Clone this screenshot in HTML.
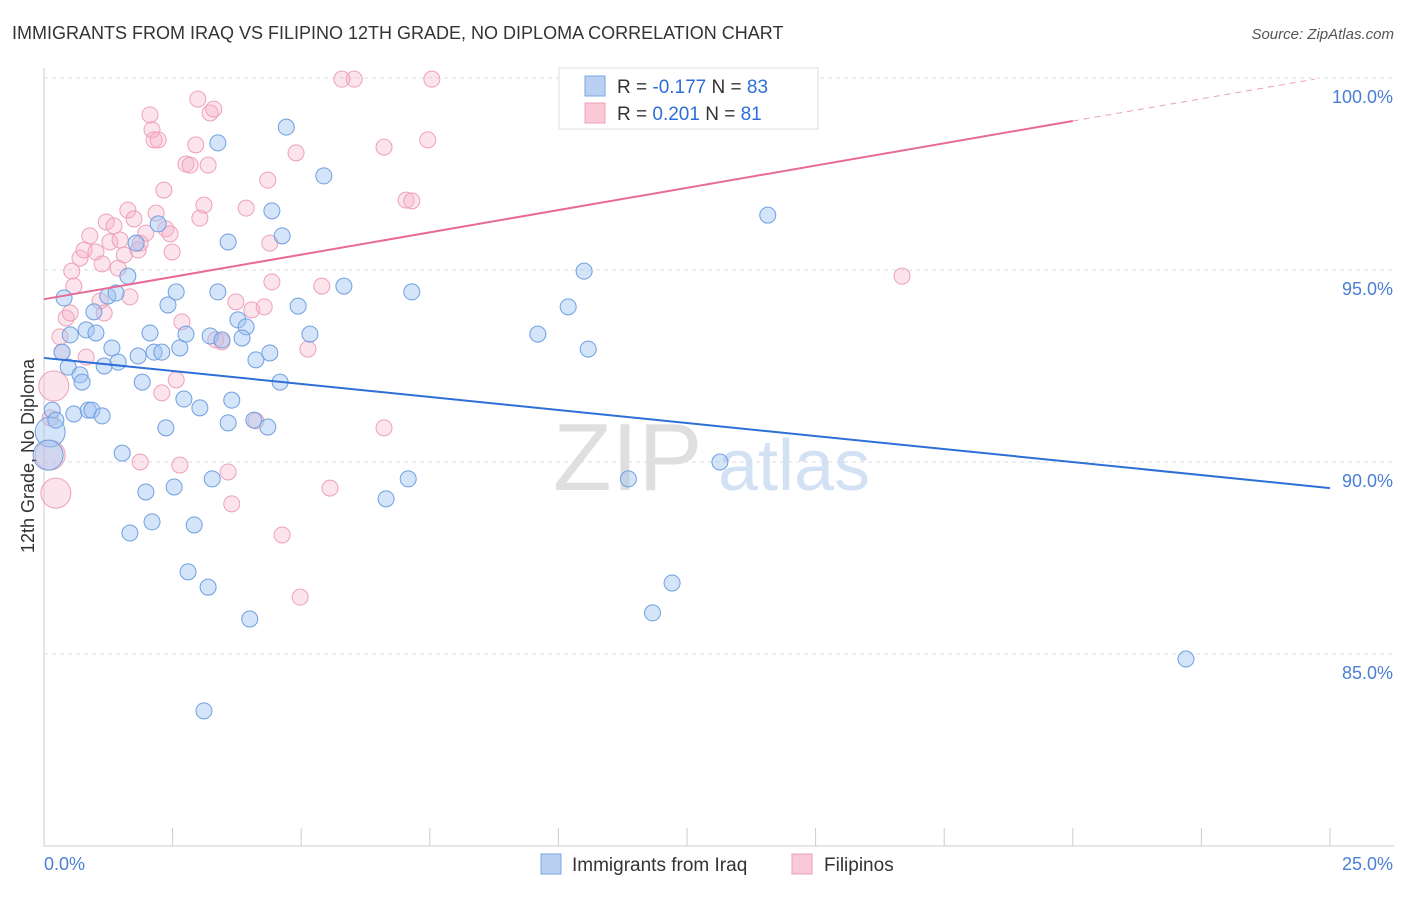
<!DOCTYPE html>
<html><head><meta charset="utf-8"><style>
body{margin:0;background:#fff;font-family:"Liberation Sans",sans-serif}
svg text{font-family:"Liberation Sans",sans-serif}
</style></head><body>
<svg id="chart" width="1406" height="892" viewBox="0 0 1406 892" xmlns="http://www.w3.org/2000/svg">
<text x="12" y="39" font-size="18" fill="#333">IMMIGRANTS FROM IRAQ VS FILIPINO 12TH GRADE, NO DIPLOMA CORRELATION CHART</text>
<text x="1394" y="39" font-size="15" fill="#555" text-anchor="end" font-style="italic">Source: ZipAtlas.com</text>
<g>
<text x="553" y="490" font-size="96" fill="#d8d8d8" font-family="Liberation Serif" opacity="0.8">ZIP</text>
<text x="718" y="490" font-size="72" fill="#c9daf2" opacity="0.8">atlas</text>
</g>
<g id="grid"></g>
<g id="axes"></g>
<g id="points"></g>
<g id="lines"></g>
<g>
<rect x="559" y="68" width="259" height="61" fill="#fff" stroke="#ddd"/>
<rect x="585" y="76" width="20" height="20" fill="#b9d0f3" stroke="#7aa6e3"/>
<text x="617" y="93" font-size="19" fill="#333">R = <tspan fill="#2d6fd6">-0.177</tspan>   N = <tspan fill="#2d6fd6">83</tspan></text>
<rect x="585" y="103" width="20" height="20" fill="#f9c9d7" stroke="#eda0b8"/>
<text x="617" y="120" font-size="19" fill="#333">R =  <tspan fill="#2d6fd6">0.201</tspan>   N =  <tspan fill="#2d6fd6">81</tspan></text>
</g>
<g>
<rect x="541" y="854" width="20" height="20" fill="#b9d0f3" stroke="#7aa6e3"/>
<text x="572" y="871" font-size="19" fill="#333">Immigrants from Iraq</text>
<rect x="792" y="854" width="20" height="20" fill="#f9c9d7" stroke="#eda0b8"/>
<text x="824" y="871" font-size="19" fill="#333">Filipinos</text>
</g>
<text transform="translate(34,456) rotate(-90)" font-size="18" fill="#333" text-anchor="middle">12th Grade, No Diploma</text>
</svg>
<script>
const xTicks=[0,2.5,5,7.5,10,12.5,15,17.5,20,22.5,25];
const yTicks=[85,90,95,100];
const yTickLabels=["85.0%","90.0%","95.0%","100.0%"];
const xTickLabels=["0.0%","25.0%"];
const iraqX=[0.39,0.51,0.35,0.47,0.70,0.74,0.16,0.12,0.23,0.58,0.86,0.93,1.13,0.82,1.01,0.97,1.24,1.40,1.17,1.32,1.44,1.63,1.79,2.22,1.83,1.91,2.06,2.14,2.29,2.41,2.57,2.64,2.76,2.72,3.03,2.37,1.52,1.98,2.10,1.67,2.53,2.92,2.80,3.19,3.11,4.00,3.27,3.38,3.38,3.23,3.46,3.58,3.65,3.58,3.77,3.93,3.85,4.12,4.39,4.08,4.35,4.59,4.43,4.63,4.71,4.94,5.17,5.44,5.83,6.65,7.08,7.15,9.60,10.19,10.50,10.58,11.36,11.83,12.21,13.14,14.07,22.20,0.08];
const iraqY=[94.27,93.31,92.86,92.47,92.27,92.08,91.35,90.78,91.09,91.25,91.35,91.35,91.20,93.44,93.36,93.91,94.32,94.40,92.50,92.97,92.60,94.84,95.70,96.20,92.76,92.08,93.36,92.86,92.86,94.09,94.43,92.97,93.33,91.64,91.41,90.89,90.23,89.22,88.44,88.15,89.35,88.36,87.14,86.74,83.52,85.91,89.56,98.31,94.43,93.28,93.18,95.73,91.61,91.02,93.70,93.52,93.23,92.66,92.84,91.09,90.91,92.08,96.54,95.89,98.72,94.06,93.33,97.45,94.58,89.04,89.56,94.43,93.33,94.04,94.97,92.94,89.56,86.07,86.85,90.00,96.43,84.87,90.18];
const filX=[0.23,0.19,0.12,0.31,0.35,0.43,0.51,0.54,0.58,0.70,0.78,0.82,0.89,1.01,1.09,1.17,1.13,1.21,1.28,1.36,1.44,1.48,1.56,1.63,1.67,1.75,1.83,1.87,1.98,2.06,2.10,2.14,2.22,2.18,2.33,2.37,2.45,2.49,2.57,2.68,2.76,2.84,2.95,2.99,3.03,3.11,3.19,3.23,3.30,3.34,3.46,3.58,3.65,3.73,3.93,4.04,4.12,4.28,4.35,4.39,4.43,4.63,4.90,4.98,5.13,5.40,5.56,5.79,6.03,6.61,6.61,7.04,7.15,7.46,7.54,11.78,16.68,1.87,2.64,2.29,0.12];
const filY=[89.19,91.98,90.18,93.26,92.86,93.75,93.88,94.97,94.58,95.31,95.52,92.73,95.89,95.47,94.19,93.88,95.16,96.25,95.73,96.15,95.05,95.78,95.39,96.56,94.30,96.33,95.52,95.70,95.96,99.04,98.65,98.39,98.39,96.48,97.08,96.07,95.94,95.47,92.14,93.65,97.76,97.73,98.26,99.45,96.35,96.69,97.73,99.09,99.19,93.18,93.13,89.74,88.91,94.17,96.61,93.96,91.07,94.04,97.34,95.70,94.69,88.10,98.05,86.48,92.94,94.58,89.32,99.97,99.97,98.20,90.89,96.82,96.80,98.39,99.97,99.97,94.84,90.00,89.92,91.80,91.15];
const iraqTrend=[92.71,89.32];
const filTrend=[94.24,100.04];
const NS="http://www.w3.org/2000/svg";
const X0=44,X1=1330,Y100=78,PX5=192;
function sx(v){return X0+(v/25)*(X1-X0);}
function sy(v){return Y100+(100-v)/5*PX5;}
function mk(tag,attrs,parent){const e=document.createElementNS(NS,tag);for(const k in attrs)e.setAttribute(k,attrs[k]);parent.appendChild(e);return e;}
const grid=document.getElementById('grid'),axes=document.getElementById('axes'),pts=document.getElementById('points'),lines=document.getElementById('lines');
yTicks.forEach((t,i)=>{
 const l=mk('line',{x1:X0,x2:1394,y1:sy(t),y2:sy(t),stroke:'#ddd','stroke-dasharray':'4,4'},grid);
 
 
 const tx=mk('text',{x:1393,y:sy(t)+25,'font-size':18,fill:'#4a7fd6','text-anchor':'end'},axes);
 tx.textContent=yTickLabels[i];
 
 
});
const ax=mk('line',{x1:X0,x2:1394,y1:846,y2:846,stroke:'#ccc'},axes);


const ay=mk('line',{x1:X0,x2:X0,y1:68,y2:846,stroke:'#ccc'},axes);


xTicks.forEach(t=>{
 const l=mk('line',{x1:sx(t),x2:sx(t),y1:828,y2:846,stroke:'#ccc'},axes);
 
 
});
const xl0=mk('text',{x:44,y:870,'font-size':18,fill:'#4a7fd6'},axes);xl0.textContent=xTickLabels[0];


const xl1=mk('text',{x:1393,y:870,'font-size':18,fill:'#4a7fd6','text-anchor':'end'},axes);xl1.textContent=xTickLabels[1];


function drawPts(xs,ys,fill,stroke,name,bigIdx){
 xs.forEach((x,i)=>{
  const c=mk('circle',{cx:sx(x),cy:sy(ys[i]),r:bigIdx.includes(i)?15:8,fill:fill,stroke:stroke,'stroke-width':1},pts);
  
  
 });
}
drawPts(filX,filY,'rgba(246,178,200,0.35)','#eea0ba','point-filipinos',[2,0,1]);
drawPts(iraqX,iraqY,'rgba(160,195,242,0.45)','#6f9fe0','point-iraq',[82,7]);
const bl=mk('line',{x1:sx(0),y1:sy(iraqTrend[0]),x2:sx(25),y2:sy(iraqTrend[1]),stroke:'#2d6fd6','stroke-width':2},lines);


const f=v=>filTrend[0]+(filTrend[1]-filTrend[0])*v/25;
const pl=mk('line',{x1:sx(0),y1:sy(f(0)),x2:sx(20),y2:sy(f(20)),stroke:'#e86a96','stroke-width':2},lines);


const pd=mk('line',{x1:sx(20),y1:sy(f(20)),x2:sx(24.7),y2:sy(f(24.7)),stroke:'#eea0ba','stroke-width':1,'stroke-dasharray':'6,5'},lines);


</script>
</body></html>
